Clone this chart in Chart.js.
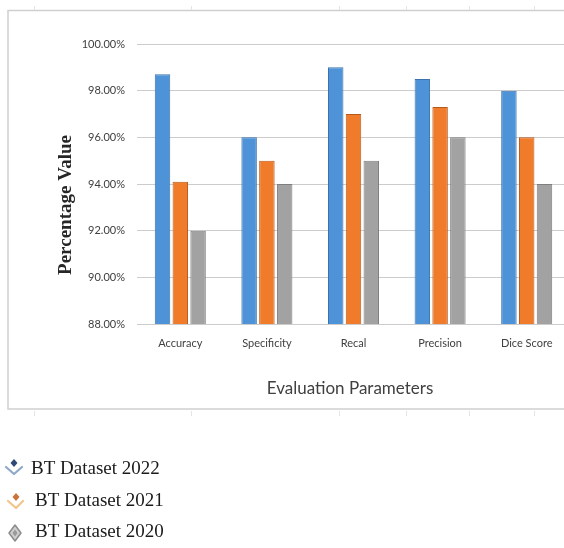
<!DOCTYPE html>
<html>
<head>
<meta charset="utf-8">
<script src="https://cdn.jsdelivr.net/npm/chart.js@4/dist/chart.umd.min.js"></script>
<style>
  html, body { margin: 0; padding: 0; background: #ffffff; overflow: hidden; }
  #wrap { position: relative; width: 564px; height: 548px; overflow: hidden; }
  #chart { position: absolute; left: 0; top: 0; }
</style>
</head>
<body>
<div id="wrap"><canvas id="chart" width="580" height="548"></canvas></div>
<script>
// Evaluation parameters on the x axis
const categories = ['Accuracy', 'Specificity', 'Recal', 'Precision', 'Dice Score'];

// Percentage values per dataset
const bt2022 = [98.7, 96.0, 99.0, 98.5, 98.0];
const bt2021 = [94.1, 95.0, 97.0, 97.3, 96.0];
const bt2020 = [92.0, 94.0, 95.0, 96.0, 94.0];

const seriesNames = ['BT Dataset 2022', 'BT Dataset 2021', 'BT Dataset 2020'];

// Value axis range and step
const yMin = 88;
const yMax = 100;
const yStep = 2;

const xTitle = 'Evaluation Parameters';
const yTitle = 'Percentage Value';

const fills = ['#4e93d8', '#ef7b2b', '#a2a2a2'];
const edges = ['#3a72ab', '#b8591c', '#7f7f7f'];

// Outer frame, axis titles and the stacked legend below the frame
const decorations = {
  id: 'decorations',
  beforeDraw(chart) {
    const ctx = chart.ctx;
    ctx.save();
    ctx.strokeStyle = '#cfcfcf';
    ctx.lineWidth = 1.5;
    ctx.strokeRect(8, 10.5, 640, 398.5);
    // faint ruler marks just outside the frame
    ctx.strokeStyle = '#e4e4e4';
    ctx.lineWidth = 1;
    [34, 191, 339, 406, 469, 534].forEach(x => {
      ctx.beginPath();
      ctx.moveTo(x + 0.5, 6); ctx.lineTo(x + 0.5, 10);
      ctx.moveTo(x + 0.5, 411); ctx.lineTo(x + 0.5, 416);
      ctx.stroke();
    });
    ctx.restore();
  },
  afterDraw(chart) {
    const ctx = chart.ctx;
    ctx.save();

    // x axis title
    ctx.fillStyle = '#404040';
    ctx.font = '17px Lato, "Liberation Sans Narrow", sans-serif';
    ctx.textAlign = 'center';
    ctx.textBaseline = 'middle';
    ctx.fillText(xTitle, 350, 389);

    // y axis title (rotated)
    ctx.save();
    ctx.translate(66, 205);
    ctx.rotate(-Math.PI / 2);
    ctx.fillStyle = '#262626';
    ctx.font = 'bold 19px "Liberation Serif", "DejaVu Serif", serif';
    ctx.textAlign = 'center';
    ctx.textBaseline = 'middle';
    ctx.fillText(yTitle, 0, 0);
    ctx.restore();

    // legend
    const rows = [468, 500, 531];
    const textX = [31, 35, 35];
    chart.data.datasets.forEach((ds, i) => {
      const y = rows[i];
      drawIcon(ctx, i, y);
      ctx.fillStyle = '#1a1a1a';
      ctx.font = '19px "Liberation Serif", "Times New Roman", serif';
      ctx.textAlign = 'left';
      ctx.textBaseline = 'middle';
      ctx.fillText(ds.label, textX[i], y + 1);
    });
    ctx.restore();
  }
};

function drawIcon(ctx, i, y) {
  ctx.save();
  ctx.lineJoin = 'round';
  ctx.lineCap = 'round';
  if (i === 0) {
    ctx.strokeStyle = '#8ea9c8';
    ctx.lineWidth = 2.2;
    ctx.beginPath();
    ctx.moveTo(6, y - 1); ctx.lineTo(14, y + 6); ctx.lineTo(22, y - 1);
    ctx.stroke();
    ctx.fillStyle = '#2f4a78';
    diamond(ctx, 14, y - 5, 3.5, 4);
    ctx.fill();
  } else if (i === 1) {
    ctx.strokeStyle = '#f2c48c';
    ctx.lineWidth = 2.2;
    ctx.beginPath();
    ctx.moveTo(8, y + 1); ctx.lineTo(16, y + 8); ctx.lineTo(23, y + 1);
    ctx.stroke();
    ctx.fillStyle = '#c8743a';
    diamond(ctx, 16, y - 3, 3.5, 4);
    ctx.fill();
  } else {
    ctx.fillStyle = '#cfcfcf';
    ctx.strokeStyle = '#8c8c8c';
    ctx.lineWidth = 1.5;
    diamond(ctx, 15, y + 2, 6, 8);
    ctx.fill();
    ctx.stroke();
    ctx.fillStyle = '#9a9a9a';
    diamond(ctx, 15, y + 2, 2.5, 3.5);
    ctx.fill();
  }
  ctx.restore();
}

function diamond(ctx, cx, cy, rx, ry) {
  ctx.beginPath();
  ctx.moveTo(cx, cy - ry);
  ctx.lineTo(cx + rx, cy);
  ctx.lineTo(cx, cy + ry);
  ctx.lineTo(cx - rx, cy);
  ctx.closePath();
}

const seriesData = [bt2022, bt2021, bt2020];

new Chart(document.getElementById('chart'), {
  type: 'bar',
  data: {
    labels: categories,
    datasets: seriesData.map((values, i) => ({
      label: seriesNames[i],
      data: values,
      backgroundColor: fills[i],
      borderColor: edges[i],
      borderWidth: 1,
      categoryPercentage: 0.616,
      barPercentage: 0.87
    }))
  },
  options: {
    responsive: false,
    animation: false,
    devicePixelRatio: 1,
    layout: { padding: { top: 44, right: 10, bottom: 164, left: 0 } },
    plugins: {
      legend: { display: false },
      tooltip: { enabled: false }
    },
    scales: {
      x: {
        grid: { display: false, drawTicks: false },
        border: { display: false },
        ticks: {
          color: '#404040',
          font: { family: 'Lato, "Liberation Sans Narrow", sans-serif', size: 11 },
          padding: 13,
          maxRotation: 0
        },
        afterFit(scale) { scale.height = 60; }
      },
      y: {
        min: yMin,
        max: yMax,
        grid: { color: '#cccccc', lineWidth: 1, drawTicks: false },
        border: { display: false },
        ticks: {
          stepSize: yStep,
          color: '#404040',
          font: { family: 'Lato, "Liberation Sans Narrow", sans-serif', size: 11 },
          padding: 12,
          callback: v => v.toFixed(2) + '%'
        },
        afterFit(scale) { scale.width = 137; }
      }
    }
  },
  plugins: [decorations]
});
</script>
</body>
</html>
